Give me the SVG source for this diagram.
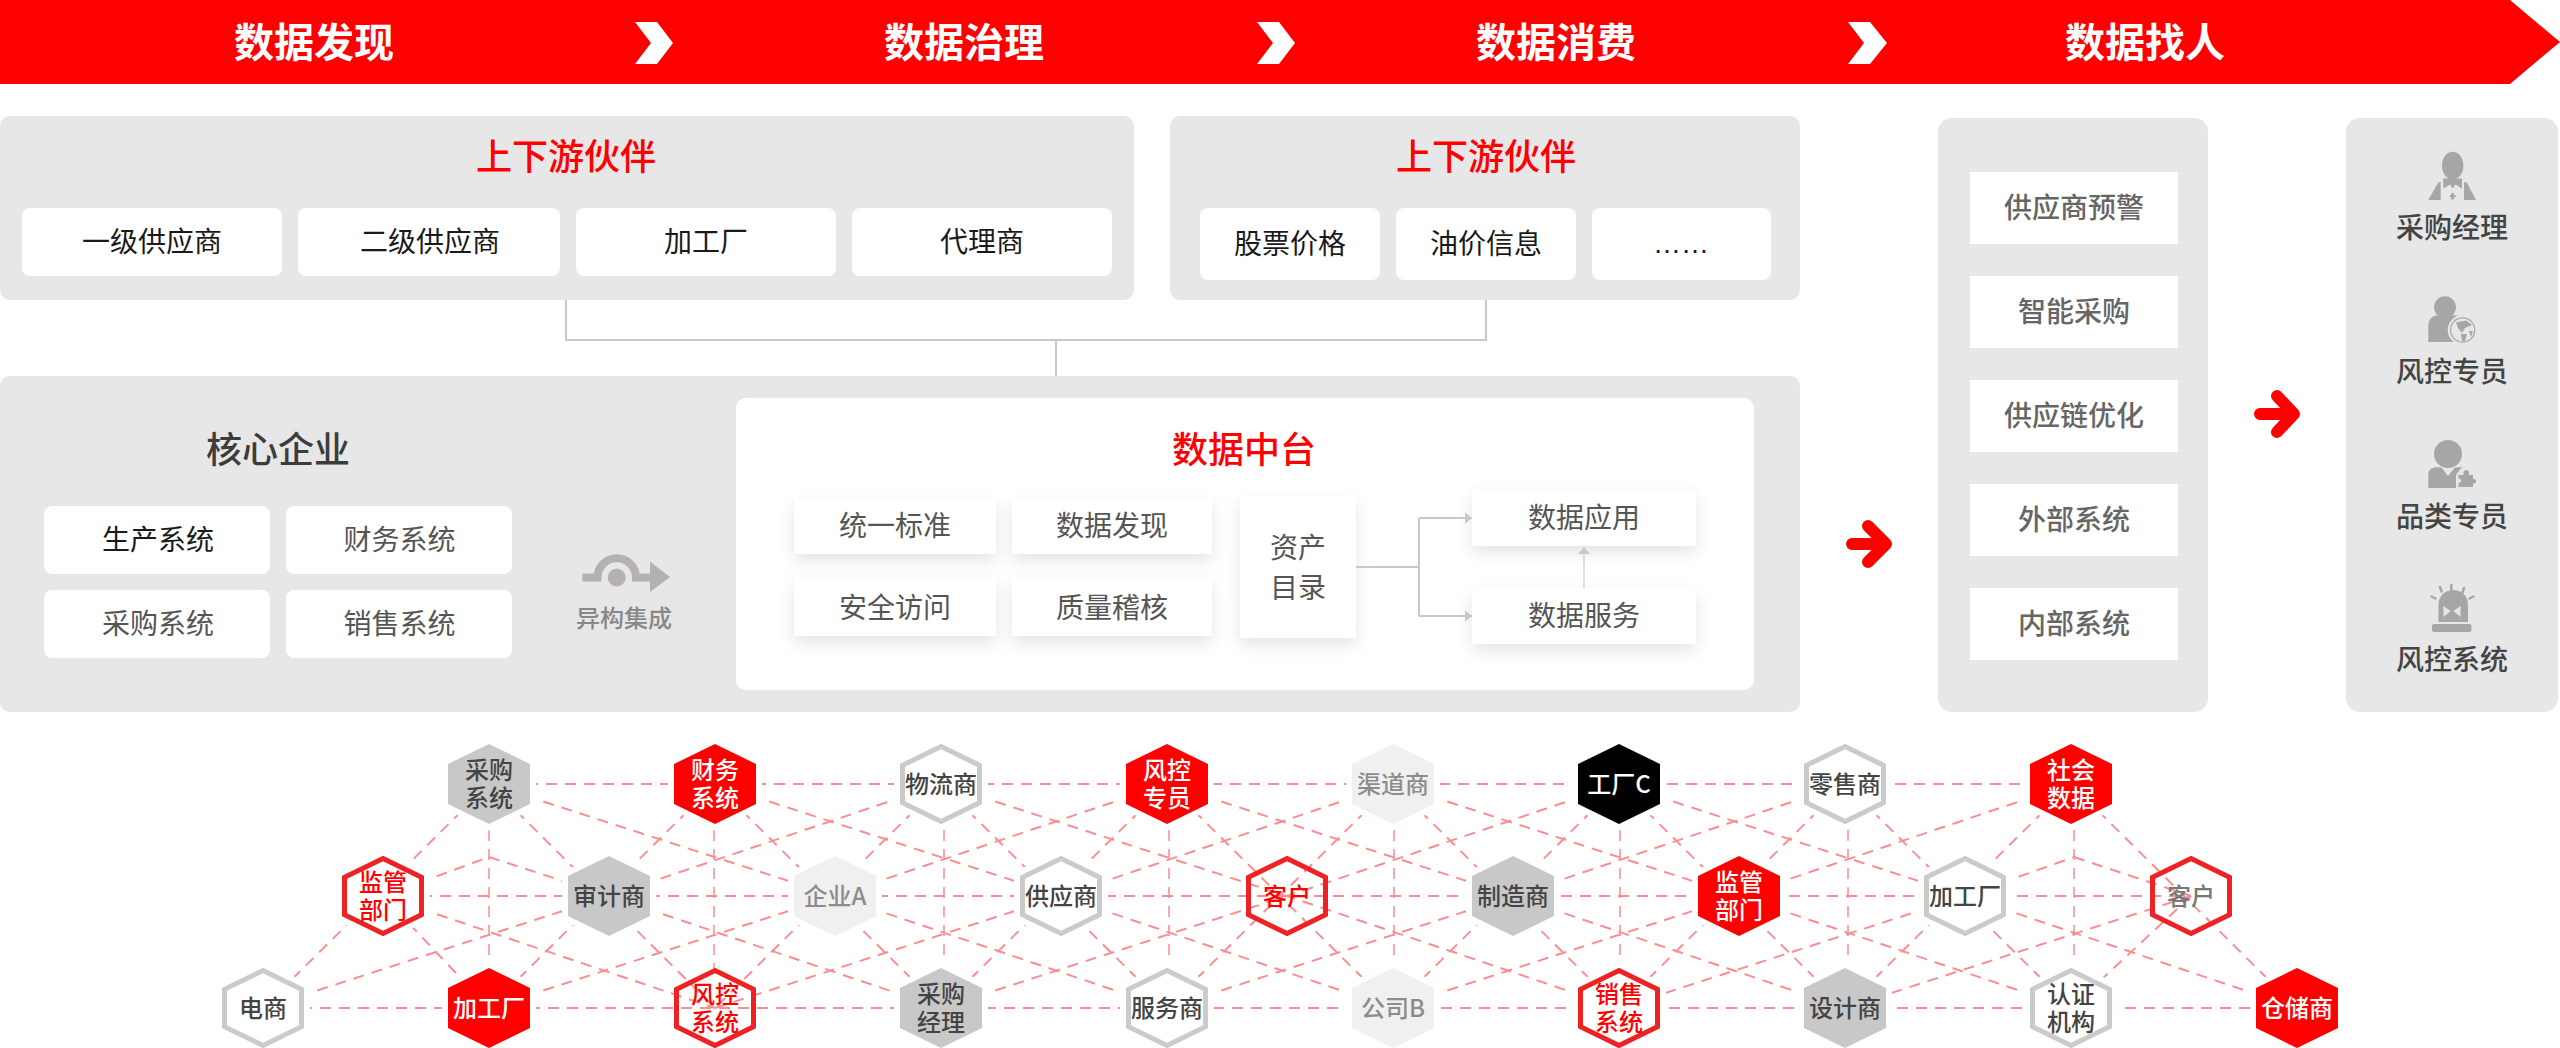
<svg xmlns="http://www.w3.org/2000/svg" width="2560" height="1048" viewBox="0 0 2560 1048">
<style>
text{font-family:"Noto Sans CJK SC","Noto Sans",sans-serif;text-anchor:middle;dominant-baseline:central}
.panel{fill:#e7e7e7}
.card{fill:#fff}
.band{font-size:40px;font-weight:700;fill:#fff}
.title{font-size:36px;font-weight:500;fill:#f00}
.dark{font-size:36px;font-weight:500;fill:#3c3c3c}
.t28{font-size:28px;fill:#555}
.blk{font-size:28px;fill:#1a1a1a}
.side{font-size:28px;font-weight:500;fill:#666}
.role{font-size:28px;font-weight:500;fill:#444}
.icon{fill:#a6a6a6}
.bg{fill:#e7e7e7}
.mesh{fill:none;stroke:#f98d8f;stroke-width:2;stroke-dasharray:11 8}
.meshv{fill:none;stroke:#f98d8f;stroke-width:1.5;stroke-dasharray:11 8}
.wire{fill:none;stroke:#c9c9c9;stroke-width:2}
.wire1{fill:none;stroke:#c9c9c9;stroke-width:1.2}
.go{fill:none;stroke:#f00;stroke-width:12;stroke-linecap:round;stroke-linejoin:round}
.halo{fill:#fff;stroke:#fff;stroke-width:12}
.hg{fill:#c8c8c8}.hl{fill:#f0f0f0}.hr{fill:#f00}.hk{fill:#000}
.og{fill:#fff;stroke:#cbcbcb;stroke-width:5}
.or{fill:#fff;stroke:#ee2224;stroke-width:5}
.orn{fill:none;stroke:#ee2224;stroke-width:5}
.n{font-size:24px;font-weight:500}
.nd{fill:#444}.nw{fill:#fff}.nr{fill:#f00}.ng{fill:#8c8c8c}.nm{fill:#777}
</style>
<defs>
<polygon id="hex" points="0,-40 41,-20 41,20 0,40 -41,20 -41,-20"/>
<polygon id="hexo" points="0,-37.5 38.5,-18.7 38.5,18.7 0,37.5 -38.5,18.7 -38.5,-18.7"/>
<filter id="sh" x="-30%" y="-30%" width="160%" height="180%"><feDropShadow dx="0" dy="7" stdDeviation="8" flood-color="#000" flood-opacity=".1"/></filter>
<marker id="ah" markerUnits="userSpaceOnUse" markerWidth="8" markerHeight="12" refX="7" refY="6" orient="auto"><path d="M0 0L7 6L0 12Z" fill="#c9c9c9"/></marker>
</defs>

<g id="banner">
<polygon points="0,0 2510,0 2560,42 2510,84 0,84" fill="#f00"/>
<path id="chev1" d="M635 22H657L673 43L657 64H635L651 43Z" fill="#fff"/>
<path id="chev2" d="M1257 22H1279L1295 43L1279 64H1257L1273 43Z" fill="#fff"/>
<path id="chev3" d="M1848 22H1870L1887 43L1870 64H1848L1864 43Z" fill="#fff"/>
<text class="band" x="314" y="39.500">数据发现</text>
<text class="band" x="964" y="39.500">数据治理</text>
<text class="band" x="1556" y="39.500">数据消费</text>
<text class="band" x="2145" y="39.500">数据找人</text>
</g>

<g id="partners-a">
<rect class="panel" x="0" y="116" width="1134" height="184" rx="10"/>
<text class="title" x="566" y="154">上下游伙伴</text>
<rect class="card" x="22" y="208" width="260" height="68" rx="8"/><text class="blk" x="152" y="240">一级供应商</text>
<rect class="card" x="298" y="208" width="262" height="68" rx="8"/><text class="blk" x="430" y="240">二级供应商</text>
<rect class="card" x="576" y="208" width="260" height="68" rx="8"/><text class="blk" x="706" y="240">加工厂</text>
<rect class="card" x="852" y="208" width="260" height="68" rx="8"/><text class="blk" x="982" y="240">代理商</text>
</g>
<g id="partners-b">
<rect class="panel" x="1170" y="116" width="630" height="184" rx="10"/>
<text class="title" x="1486" y="154">上下游伙伴</text>
<rect class="card" x="1200" y="208" width="180" height="72" rx="8"/><text class="blk" x="1290" y="242">股票价格</text>
<rect class="card" x="1396" y="208" width="180" height="72" rx="8"/><text class="blk" x="1486" y="242">油价信息</text>
<rect class="card" x="1592" y="208" width="179" height="72" rx="8"/><text class="blk" x="1681" y="243" style="font-family:'Liberation Sans',sans-serif">……</text>
</g>

<g id="core">
<rect class="panel" x="0" y="376" width="1800" height="336" rx="10"/>
<text class="dark" x="278" y="447">核心企业</text>
<rect class="card" x="44" y="506" width="226" height="68" rx="8"/><text class="blk" x="158" y="538">生产系统</text>
<rect class="card" x="286" y="506" width="226" height="68" rx="8"/><text class="t28" x="399.500" y="538">财务系统</text>
<rect class="card" x="44" y="590" width="226" height="68" rx="8"/><text class="t28" x="158" y="622">采购系统</text>
<rect class="card" x="286" y="590" width="226" height="68" rx="8"/><text class="t28" x="399.500" y="622">销售系统</text>
<g id="hetero">
<path d="M582.300 577.500H597.500A19.200 19.200 0 0 1 636 577.500H653" fill="none" stroke="#b5b1b1" stroke-width="8"/>
<circle cx="616.700" cy="577.500" r="9" fill="#b5b1b1"/>
<polygon points="650,561.500 670,577 650,592" fill="#b5b1b1"/>
<text x="624" y="616" font-size="24" font-weight="500" fill="#888">异构集成</text>
</g>
</g>

<g id="platform">
<rect class="card" x="736" y="398" width="1018" height="292" rx="10"/>
<text class="title" x="1244" y="447">数据中台</text>
<g filter="url(#sh)">
<rect class="card" x="794" y="498" width="202" height="56"/>
<rect class="card" x="1012" y="498" width="200" height="56"/>
<rect class="card" x="794" y="578" width="202" height="58"/>
<rect class="card" x="1012" y="578" width="200" height="58"/>
<rect class="card" x="1240" y="496" width="116" height="142"/>
<rect class="card" x="1472" y="490" width="224" height="56"/>
<rect class="card" x="1472" y="588" width="224" height="56"/>
</g>
<text class="t28" x="895" y="524">统一标准</text>
<text class="t28" x="1112" y="524">数据发现</text>
<text class="t28" x="895" y="606">安全访问</text>
<text class="t28" x="1112" y="606">质量稽核</text>
<text class="t28" x="1298" y="546">资产</text>
<text class="t28" x="1298" y="586">目录</text>
<text class="t28" x="1584" y="516">数据应用</text>
<text class="t28" x="1584" y="614">数据服务</text>
</g>

<path id="arrow1" class="go" d="M1852 544H1884M1868 526L1886 544L1868 562"/>
<path id="arrow2" class="go" d="M2260 414H2292M2277 396L2294 414L2277 432"/>

<g id="apps">
<rect class="panel" x="1938" y="118" width="270" height="594" rx="14"/>
<rect class="card" x="1970" y="172" width="208" height="72"/><text class="side" x="2074" y="206">供应商预警</text>
<rect class="card" x="1970" y="276" width="208" height="72"/><text class="side" x="2074" y="310">智能采购</text>
<rect class="card" x="1970" y="380" width="208" height="72"/><text class="side" x="2074" y="414">供应链优化</text>
<rect class="card" x="1970" y="484" width="208" height="72"/><text class="side" x="2074" y="518">外部系统</text>
<rect class="card" x="1970" y="588" width="208" height="72"/><text class="side" x="2074" y="622">内部系统</text>
</g>

<g id="roles">
<rect class="panel" x="2346" y="118" width="212" height="594" rx="14"/>
<g id="role-buyer">
<ellipse class="icon" cx="2452.700" cy="165.700" rx="10.700" ry="14"/>
<path class="icon" d="M2428.300 200L2438.300 182.300H2440.700V200ZM2464 182.300H2466.700L2476 200H2464ZM2443.300 178.500H2462V188.500L2455.500 184.500L2452.700 188.500L2450 184.500L2443.300 188.500ZM2450 195H2451.300V193H2453.800V195H2455.500V197.300H2453.800V199.500H2451.300V197.300H2450Z"/>
<text class="role" x="2452" y="226">采购经理</text>
</g>
<g id="role-risk">
<circle class="icon" cx="2445" cy="307.300" r="11"/>
<path class="icon" d="M2428.300 342V327C2428.300 318 2434 314 2440 316H2450C2456 314 2460 316 2462 319L2456 342Z"/>
<circle class="bg" cx="2462.700" cy="330" r="15"/>
<circle class="icon" cx="2462.700" cy="330" r="12.700"/>
<circle class="bg" cx="2462.700" cy="330" r="11.500"/>
<path class="icon" d="M2456 322.500L2466 320.500L2472 325L2465 328L2462 333L2458 328ZM2461 334L2467 334L2465 341L2462 341ZM2469 331L2473 331L2471 337Z"/>
<text class="role" x="2452" y="370">风控专员</text>
</g>
<g id="role-category">
<circle class="icon" cx="2448" cy="454" r="14"/>
<path class="icon" d="M2428.300 488V475C2428.300 468 2434 466.500 2441.500 467.500L2448 476L2455 467.500L2462 467L2456 475V488Z"/>
<path class="icon" d="M2458.500 475H2463.500V472.500C2463.500 469 2469 469 2469 472.500V475H2473V479C2477 478 2477 484 2473 483.500V487H2458.500V483C2462 483 2462 478.500 2458.500 478.500Z"/>
<text class="role" x="2452" y="515">品类专员</text>
</g>
<g id="role-system">
<path class="icon" d="M2438.500 622V605C2438.500 585 2468 585 2468 605V622Z"/>
<path class="bg" d="M2443.500 606L2450.500 611L2443.500 617ZM2460.500 606L2453.500 611L2460.500 617Z"/>
<rect class="icon" x="2432" y="624" width="39.500" height="8" rx="2"/>
<path d="M2451.300 585V590.500M2440 587L2441.500 591.500M2464 588L2462.500 592.500M2431.500 596.500L2435.500 598.500M2473.500 596.500L2469.500 598.500" stroke="#a6a6a6" stroke-width="2.500" stroke-linecap="round" fill="none"/>
<text class="role" x="2452" y="658">风控系统</text>
</g>
</g>

<g id="connectors">
<path class="wire" d="M566 300V340H1486V300M1056 340V376"/>
<path class="wire" d="M1356 567H1419M1419 518V616"/>
<path class="wire" d="M1419 518H1472" marker-end="url(#ah)"/>
<path class="wire" d="M1419 616H1472" marker-end="url(#ah)"/>
<path class="wire1" d="M1584 588V547" marker-end="url(#ah)"/>
<g id="mesh">
<path class="mesh" d="M489 784H2071M383 896H2191M263 1008H2297"/>
<path class="mesh" d="M489 784L715 1008M715 784L941 1008M941 784L1167 1008M1167 784L1393 1008M1393 784L1619 1008M1619 784L1845 1008M1845 784L2071 1008M2071 784L2297 1008"/>
<path class="mesh" d="M489 784L263 1008M715 784L489 1008M941 784L715 1008M1167 784L941 1008M1393 784L1167 1008M1619 784L1393 1008M1845 784L1619 1008M2071 784L1845 1008M383 896L489 1008M2191 896L2071 1008"/>
<path class="mesh" d="M489 784L835 896L1167 1008M715 784L1061 896L1393 1008M941 784L1287 896L1619 1008M1167 784L1513 896L1845 1008M1393 784L1739 896L2071 1008M1619 784L1965 896L2297 1008M383 896L715 1008M609 896L941 1008M489 857L609 896M2074 857L2191 896"/>
<path class="mesh" d="M941 784L609 896L263 1008M1167 784L835 896L489 1008M1393 784L1061 896L715 1008M1619 784L1287 896L941 1008M1845 784L1513 896L1167 1008M2071 784L1739 896L1393 1008M1965 896L1619 1008M2191 896L1845 1008M383 896L489 857M1965 896L2074 857"/>
<path class="meshv" d="M489 830V968M714 830V968M944 830V968M1169 830V968M1394 830V968M1620 830V968M1848 830V968M2074 830V968"/>
</g>
</g>

<g id="n-cgxt" transform="translate(489 784)"><use href="#hex" class="halo"/><use href="#hex" class="hg"/><text class="n nd"><tspan x="0" y="-16">采购</tspan><tspan x="0" y="12">系统</tspan></text></g>
<g id="n-cwxt" transform="translate(715 784)"><use href="#hex" class="halo"/><use href="#hex" class="hr"/><text class="n nw"><tspan x="0" y="-16">财务</tspan><tspan x="0" y="12">系统</tspan></text></g>
<g id="n-wls" transform="translate(941 784)"><use href="#hex" class="halo"/><use href="#hexo" class="og"/><text class="n nd" y="-2">物流商</text></g>
<g id="n-fkzy" transform="translate(1167 784)"><use href="#hex" class="halo"/><use href="#hex" class="hr"/><text class="n nw"><tspan x="0" y="-16">风控</tspan><tspan x="0" y="12">专员</tspan></text></g>
<g id="n-qds" transform="translate(1393 784)"><use href="#hex" class="halo"/><use href="#hex" class="hl"/><text class="n ng" y="-2">渠道商</text></g>
<g id="n-gcc" transform="translate(1619 784)"><use href="#hex" class="halo"/><use href="#hex" class="hk"/><text class="n nw" y="-2">工厂C</text></g>
<g id="n-lss" transform="translate(1845 784)"><use href="#hex" class="halo"/><use href="#hexo" class="og"/><text class="n nd" y="-2">零售商</text></g>
<g id="n-shsj" transform="translate(2071 784)"><use href="#hex" class="halo"/><use href="#hex" class="hr"/><text class="n nw"><tspan x="0" y="-16">社会</tspan><tspan x="0" y="12">数据</tspan></text></g>

<g id="n-jgbm1" transform="translate(383 896)"><use href="#hex" class="halo"/><use href="#hexo" class="or"/><text class="n nr"><tspan x="0" y="-16">监管</tspan><tspan x="0" y="12">部门</tspan></text></g>
<g id="n-sjs" transform="translate(609 896)"><use href="#hex" class="halo"/><use href="#hex" class="hg"/><text class="n nd" y="-2">审计商</text></g>
<g id="n-qya" transform="translate(835 896)"><use href="#hex" class="halo"/><use href="#hex" class="hl"/><text class="n ng" y="-2">企业A</text></g>
<g id="n-gys" transform="translate(1061 896)"><use href="#hex" class="halo"/><use href="#hexo" class="og"/><text class="n nd" y="-2">供应商</text></g>
<g id="n-kh1" transform="translate(1287 896)"><use href="#hexo" class="orn"/><text class="n nr" y="-2">客户</text></g>
<g id="n-zzs" transform="translate(1513 896)"><use href="#hex" class="halo"/><use href="#hex" class="hg"/><text class="n nd" y="-2">制造商</text></g>
<g id="n-jgbm2" transform="translate(1739 896)"><use href="#hex" class="halo"/><use href="#hex" class="hr"/><text class="n nw"><tspan x="0" y="-16">监管</tspan><tspan x="0" y="12">部门</tspan></text></g>
<g id="n-jgc1" transform="translate(1965 896)"><use href="#hex" class="halo"/><use href="#hexo" class="og"/><text class="n nd" y="-2">加工厂</text></g>
<g id="n-kh2" transform="translate(2191 896)"><use href="#hexo" class="orn"/><text class="n nm" y="-2">客户</text></g>

<g id="n-ds" transform="translate(263 1008)"><use href="#hex" class="halo"/><use href="#hexo" class="og"/><text class="n nd" y="-2">电商</text></g>
<g id="n-jgc2" transform="translate(489 1008)"><use href="#hex" class="halo"/><use href="#hex" class="hr"/><text class="n nw" y="-2">加工厂</text></g>
<g id="n-fkxt" transform="translate(715 1008)"><use href="#hexo" class="orn"/><text class="n nr"><tspan x="0" y="-16">风控</tspan><tspan x="0" y="12">系统</tspan></text></g>
<g id="n-cgjl" transform="translate(941 1008)"><use href="#hex" class="halo"/><use href="#hex" class="hg"/><text class="n nd"><tspan x="0" y="-16">采购</tspan><tspan x="0" y="12">经理</tspan></text></g>
<g id="n-fws" transform="translate(1167 1008)"><use href="#hex" class="halo"/><use href="#hexo" class="og"/><text class="n nd" y="-2">服务商</text></g>
<g id="n-gsb" transform="translate(1393 1008)"><use href="#hex" class="halo"/><use href="#hex" class="hl"/><text class="n ng" y="-2">公司B</text></g>
<g id="n-xsxt" transform="translate(1619 1008)"><use href="#hex" class="halo"/><use href="#hexo" class="or"/><text class="n nr"><tspan x="0" y="-16">销售</tspan><tspan x="0" y="12">系统</tspan></text></g>
<g id="n-sjs2" transform="translate(1845 1008)"><use href="#hex" class="halo"/><use href="#hex" class="hg"/><text class="n nd" y="-2">设计商</text></g>
<g id="n-rzjg" transform="translate(2071 1008)"><use href="#hex" class="halo"/><use href="#hexo" class="og"/><text class="n nd"><tspan x="0" y="-16">认证</tspan><tspan x="0" y="12">机构</tspan></text></g>
<g id="n-ccs" transform="translate(2297 1008)"><use href="#hex" class="halo"/><use href="#hex" class="hr"/><text class="n nw" y="-2">仓储商</text></g>
</svg>
